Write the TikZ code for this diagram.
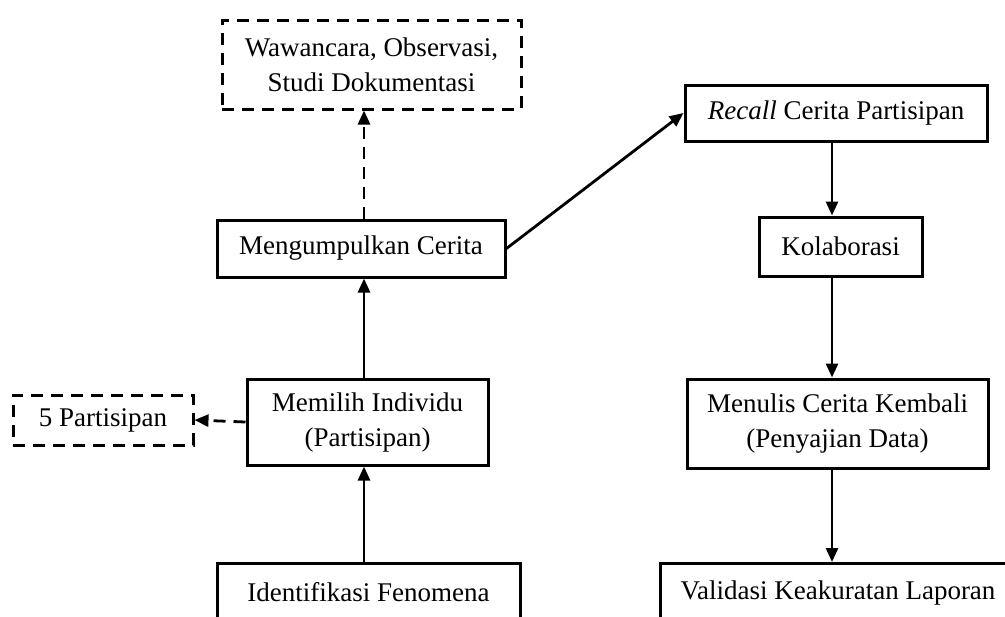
\documentclass[tikz,border=0pt]{standalone}
\usepackage{fontspec}
\setmainfont{Liberation Serif}
\usetikzlibrary{arrows.meta}

\begin{document}
\begin{tikzpicture}[x=.5pt, y=-.5pt,
    every node/.style={font=\fontsize{13.5}{17.5}\selectfont, align=center, inner sep=0pt},
    box/.style={draw, line width=1.5pt},
    dbox/.style={draw, line width=1.5pt, dash pattern=on 6pt off 4pt},
    arr/.style={line width=1.4pt, -{Triangle[length=7pt,width=6pt]}},
    darr/.style={arr, dash pattern=on 6pt off 4pt}]
             \clip (0,0) rectangle (1005,616);
             \coordinate (lcol) at (364,0);
             \coordinate (rcol) at (832,0);

             % kolom kiri
             \node[dbox, minimum width=149.5pt, minimum height=44.5pt] (studi) at (371.5, 64.5) {Wawancara, Observasi,\\Studi Dokumentasi};
             \node[box, minimum width=144pt, minimum height=28.5pt] (kumpul) at (361, 248.5) {Mengumpulkan Cerita};
             \node[box, minimum width=120.5pt, minimum height=43pt] (pilih) at (367.5, 422) {Memilih Individu\\(Partisipan)};
             \node[dbox, minimum width=90pt, minimum height=25pt] (lima) at (103, 420) {5 Partisipan};
             \node[box, minimum width=151.5pt, minimum height=29pt] (fenomena) at (368.5, 592.5) {Identifikasi Fenomena};

             % kolom kanan
             \node[box, minimum width=151pt, minimum height=28pt] (recall) at (836, 113) {\textit{Recall} Cerita Partisipan};
             \node[box, minimum width=81.5pt, minimum height=29.5pt] (kolab) at (840.5, 246.5) {Kolaborasi};
             \node[box, minimum width=150.5pt, minimum height=44.5pt] (tulis) at (837.5, 423.5) {Menulis Cerita Kembali\\(Penyajian Data)};
             \node[box, minimum width=178pt, minimum height=29pt] (validasi) at (838, 592.5) {Validasi Keakuratan Laporan};

             \draw[arr] (fenomena.north -| lcol) -- (pilih.south -| lcol);
             \draw[arr] (pilih.north -| lcol) -- (kumpul.south -| lcol);
             \draw[darr] (kumpul.north -| lcol) -- (studi.south -| lcol);
             \draw[darr] (pilih.west) -- (lima.east);
             \draw[arr] (kumpul.east) -- (recall.west);

             \draw[arr] (recall.south -| rcol) -- (kolab.north -| rcol);
             \draw[arr] (kolab.south -| rcol) -- (tulis.north -| rcol);
             \draw[arr] (tulis.south -| rcol) -- (validasi.north -| rcol);
\end{tikzpicture}
\end{document}
